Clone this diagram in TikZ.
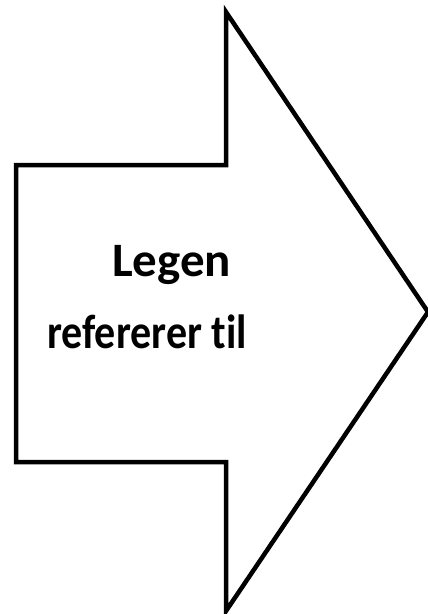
\documentclass[tikz,border=0pt]{standalone}
\usepackage{fontspec}
\usepackage{graphicx}
\setmainfont{Carlito}[Ligatures=NoCommon]
\newcommand{\narrowtext}[2]{\scalebox{#1}[1]{#2}}
\begin{document}
\begin{tikzpicture}[x=1pt,y=-1pt,
  outline/.style={draw=black,line width=4.5pt,miter limit=20,fill=white},
  label/.style={font=\fontsize{48}{56}\selectfont\bfseries,inner sep=0pt,anchor=base west}]
\useasboundingbox (0,0) rectangle (428,614);
% block arrow pointing right
\coordinate (s1) at (16,165);
\coordinate (s2) at (226,165);
\coordinate (h1) at (226,12);
\coordinate (tip) at (428,312);
\coordinate (h2) at (226,611);
\coordinate (s3) at (226,462);
\coordinate (s4) at (16,462);
\draw[outline] (s1) -- (s2) -- (h1) -- (tip) -- (h2) -- (s3) -- (s4) -- cycle;
\node[label] (l1) at (112,276) {\narrowtext{1.02}{Legen}};
\node[label] (l2) at (47,348) {\narrowtext{0.875}{refererer til}};
\end{tikzpicture}
\end{document}
